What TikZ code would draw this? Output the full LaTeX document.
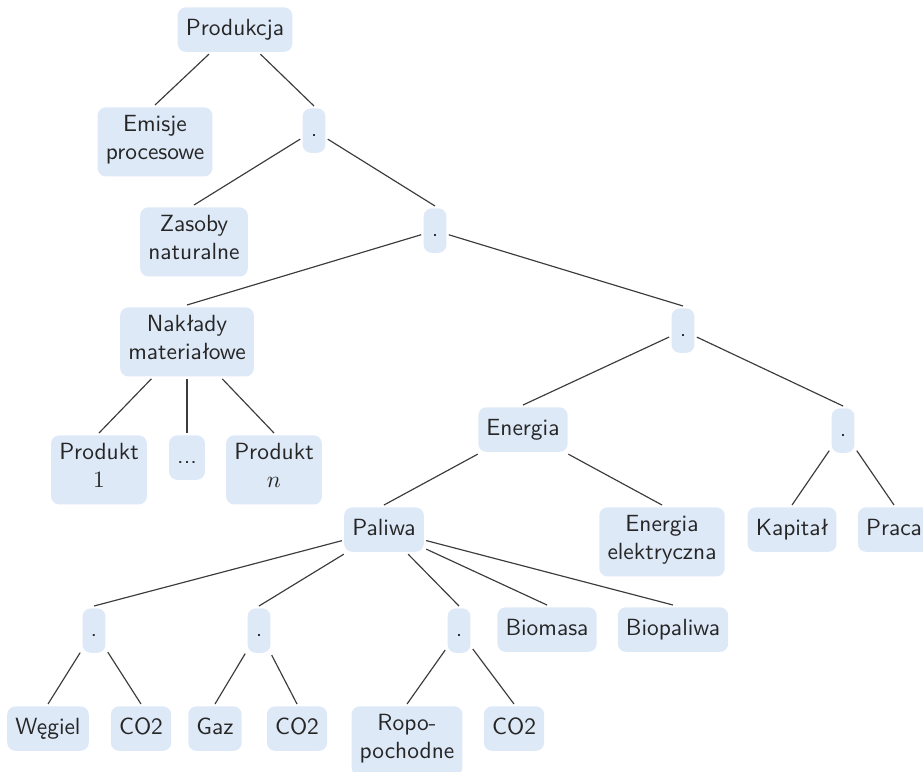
\documentclass[tikz,border=0pt]{standalone}
\usepackage{fontspec}
\usepackage{tikz}

\definecolor{boxfill}{RGB}{222,233,248}
\definecolor{linegray}{RGB}{60,60,60}

\begin{document}
\begin{tikzpicture}[
    x=0.01502cm, y=-0.01502cm,
    box/.style={fill=boxfill, rounded corners=3.5pt, inner sep=3.5pt, outer sep=1pt,
        anchor=north, align=center, font=\sffamily, text=black!85,
        execute at begin node=\strut, execute at end node=\strut},
    edge/.style={draw=linegray, line width=0.5pt}
]
    \useasboundingbox (0,0) rectangle (923,771);

    \node[box] (prod) at (235, 5) {Produkcja};
    \node[box] (emisje) at (155, 105) {Emisje\\procesowe};
    \node[box] (d1) at (314, 106) {.};
    \node[box] (zasoby) at (194, 205) {Zasoby\\naturalne};
    \node[box] (d2) at (435, 206) {.};
    \node[box] (naklady) at (187, 305) {Nakłady\\materiałowe};
    \node[box] (d3) at (683, 306) {.};

    \node[box] (prod1) at (99, 433) {Produkt\\$1$};
    \node[box] (kropki) at (187, 433) {...};
    \node[box] (prodn) at (274, 433) {Produkt\\$n$};

    \node[box] (energia) at (523, 405) {Energia};
    \node[box] (d4) at (843, 406) {.};
    \node[box] (paliwa) at (384, 505) {Paliwa};
    \node[box] (elektr) at (662, 505) {Energia\\elektryczna};
    \node[box] (kapital) at (792, 505) {Kapitał};
    \node[box] (praca) at (894, 505) {Praca};

    \node[box] (dA) at (94, 606) {.};
    \node[box] (dB) at (259, 606) {.};
    \node[box] (dC) at (459, 606) {.};
    \node[box] (biomasa) at (547, 605) {Biomasa};
    \node[box] (biopaliwa) at (673, 605) {Biopaliwa};

    \node[box] (wegiel) at (48, 704) {Węgiel};
    \node[box] (co2a) at (141, 704) {CO2};
    \node[box] (gaz) at (215, 704) {Gaz};
    \node[box] (co2b) at (297, 704) {CO2};
    \node[box] (ropo) at (407, 704) {Ropo-\\pochodne};
    \node[box] (co2c) at (514, 704) {CO2};

    \foreach \a/\b in {prod/emisje, prod/d1, d1/zasoby, d1/d2, d2/naklady, d2/d3,
        naklady/prod1, naklady/kropki, naklady/prodn, d3/energia, d3/d4,
        energia/paliwa, energia/elektr, d4/kapital, d4/praca,
        paliwa/dA, paliwa/dB, paliwa/dC, paliwa/biomasa, paliwa/biopaliwa,
        dA/wegiel, dA/co2a, dB/gaz, dB/co2b, dC/ropo, dC/co2c}
        \draw[edge] (\a) -- (\b.north);
\end{tikzpicture}
\end{document}
